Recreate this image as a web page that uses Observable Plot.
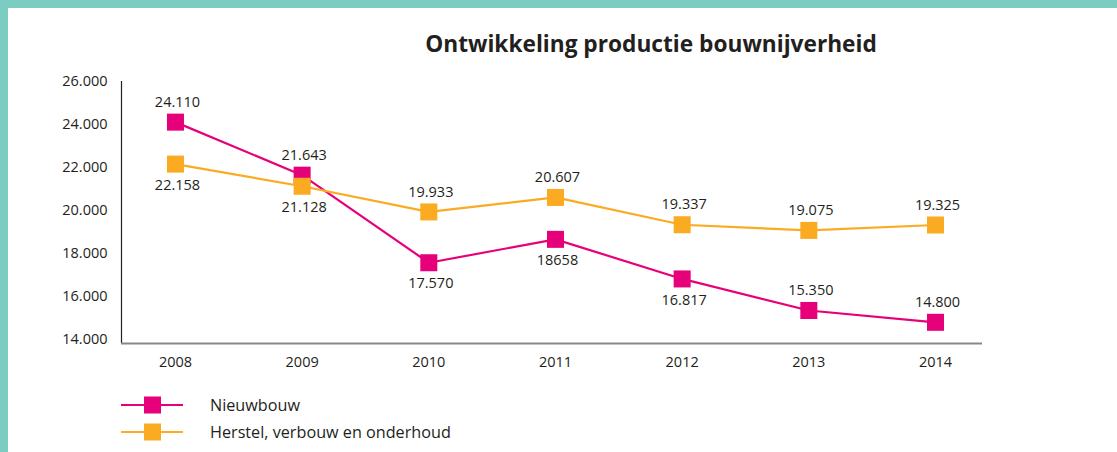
<!DOCTYPE html>
<html>
<head>
<meta charset="utf-8">
<script src="https://cdn.jsdelivr.net/npm/d3@7"></script>
<script src="https://cdn.jsdelivr.net/npm/@observablehq/plot@0.6"></script>
<style>
  html, body { margin: 0; padding: 0; background: #fff; }
  #wrap { position: relative; width: 1117px; height: 452px; overflow: hidden; font-family: "Open Sans", sans-serif; color: #222; }
  #bt { position: absolute; left: 0; top: 0; width: 1117px; height: 8px; background: #7BCDC1; }
  #bl { position: absolute; left: 0; top: 0; width: 8px; height: 452px; background: #7BCDC1; }
  #title { position: absolute; left: 0; width: 1302px; top: 28px; text-align: center; font-weight: 700; font-size: 22.7px; color: #231f20; }
  #chart { position: absolute; left: 0; top: 0; }
  #legend { position: absolute; left: 121px; top: 391px; font-size: 16.2px; color: #231f20; }
  .row { display: flex; align-items: center; height: 27.5px; }
  .row svg { margin-right: 27px; }
</style>
</head>
<body>
<div id="wrap">
  <div id="chart"></div>
  <div id="bt"></div>
  <div id="bl"></div>
  <div id="title">Ontwikkeling productie bouwnijverheid</div>
  <div id="legend"></div>
</div>
<script>
const years = [2008, 2009, 2010, 2011, 2012, 2013, 2014];
const nieuwbouw = [24110, 21643, 17570, 18658, 16817, 15350, 14800];
const herstel = [22158, 21128, 19933, 20607, 19337, 19075, 19325];
const nieuwLabels = ["24.110", "21.643", "17.570", "18658", "16.817", "15.350", "14.800"];
const herstelLabels = ["22.158", "21.128", "19.933", "20.607", "19.337", "19.075", "19.325"];
const yTicks = [14000, 16000, 18000, 20000, 22000, 24000, 26000];
const seriesNames = ["Nieuwbouw", "Herstel, verbouw en onderhoud"];
const colors = ["#E6007A", "#FAAB21"];

// label placement: +1 below marker, -1 above marker
const nieuwSide = [-1, -1, 1, 1, 1, -1, -1];
const herstelSide = [1, 1, -1, -1, -1, -1, -1];

const data = [];
years.forEach((y, i) => {
  data.push({year: y, value: nieuwbouw[i], series: seriesNames[0], label: nieuwLabels[i], side: nieuwSide[i]});
});
years.forEach((y, i) => {
  data.push({year: y, value: herstel[i], series: seriesNames[1], label: herstelLabels[i], side: herstelSide[i]});
});

const x0 = 2007.574, x1 = 2014.371, y0 = 13814, y1 = 26000;
const fmt = d => d3.format(",")(d).replace(/,/g, ".");
const txtStyle = {letterSpacing: "0.9px"};

const chart = Plot.plot({
  width: 1117,
  height: 380,
  marginLeft: 121,
  marginRight: 135,
  marginTop: 81,
  marginBottom: 37,
  style: {background: "transparent", fontFamily: "'Open Sans', sans-serif", color: "#231f20"},
  x: {type: "linear", domain: [x0, x1]},
  y: {domain: [y0, y1]},
  color: {domain: seriesNames, range: colors},
  marks: [
    Plot.axisY({ticks: yTicks, tickSize: 0, tickPadding: 14, tickFormat: fmt, label: null, fontSize: 14.5, fill: "#231f20", style: txtStyle}),
    Plot.axisX({ticks: years, tickSize: 0, tickPadding: 13, tickFormat: d => String(d), label: null, fontSize: 14.5, fill: "#231f20", style: txtStyle}),
    Plot.ruleX([x0], {stroke: "#231f20", strokeWidth: 1.2}),
    Plot.ruleY([y0], {stroke: "#888", strokeWidth: 2}),
    Plot.line(data, {x: "year", y: "value", z: "series", stroke: "series", strokeWidth: 2.2}),
    Plot.dot(data, {x: "year", y: "value", fill: "series", symbol: "square", r: 9.6, stroke: null}),
    Plot.text(data.filter(d => d.side < 0), {x: "year", y: "value", text: "label", dy: -20, dx: 2, fontSize: 14.5, fill: "#231f20", style: txtStyle}),
    Plot.text(data.filter(d => d.side > 0), {x: "year", y: "value", text: "label", dy: 21, dx: 2, fontSize: 14.5, fill: "#231f20", style: txtStyle})
  ]
});
document.getElementById("chart").appendChild(chart);

const legend = document.getElementById("legend");
seriesNames.forEach((name, i) => {
  const row = document.createElement("div");
  row.className = "row";
  const ns = "http://www.w3.org/2000/svg";
  const s = document.createElementNS(ns, "svg");
  s.setAttribute("width", 62); s.setAttribute("height", 20);
  const ln = document.createElementNS(ns, "line");
  ln.setAttribute("x1", 0); ln.setAttribute("x2", 62); ln.setAttribute("y1", 10); ln.setAttribute("y2", 10);
  ln.setAttribute("stroke", colors[i]); ln.setAttribute("stroke-width", 2.2);
  const rc = document.createElementNS(ns, "rect");
  rc.setAttribute("x", 23); rc.setAttribute("y", 1.5); rc.setAttribute("width", 17); rc.setAttribute("height", 17);
  rc.setAttribute("fill", colors[i]);
  s.appendChild(ln); s.appendChild(rc);
  const t = document.createElement("span");
  t.textContent = name;
  row.appendChild(s); row.appendChild(t);
  legend.appendChild(row);
});
</script>
</body>
</html>
